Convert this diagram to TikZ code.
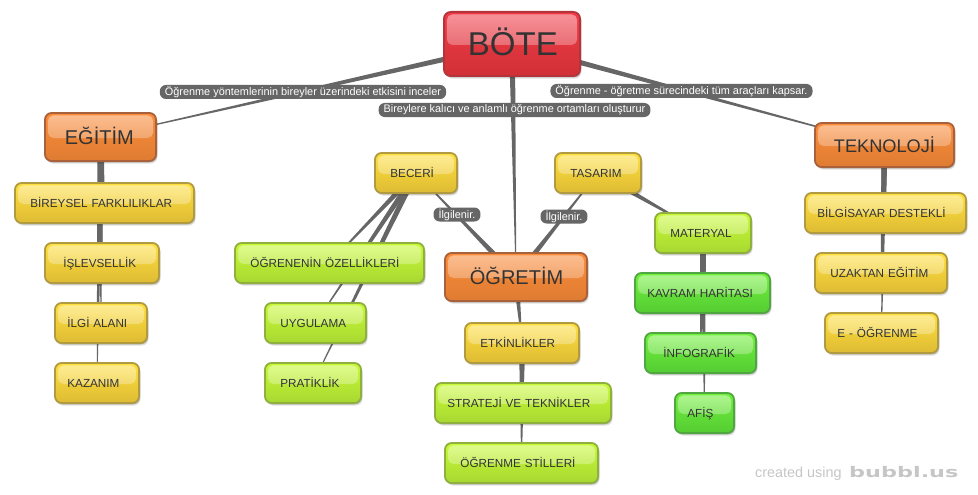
\documentclass[tikz,border=0pt]{standalone}
\usepackage{fontspec}
\setmainfont{Liberation Sans}
\newfontfamily\logofont{DejaVu Sans}
\usetikzlibrary{calc,shadows,shapes.misc,fadings}
\pgfdeclarelayer{bgl}
\pgfdeclarelayer{links}
\pgfsetlayers{bgl,links,main}
\tikzfading[name=glossfade,top color=transparent!55,bottom color=transparent!88]
\definecolor{linkc}{HTML}{666666}
\definecolor{inkc}{HTML}{333333}
\definecolor{redd}{HTML}{B4343C}\definecolor{redt}{HTML}{F23C48}\definecolor{redb}{HTML}{D03036}
\definecolor{ord}{HTML}{A8613A}\definecolor{ort}{HTML}{FC8C3A}\definecolor{orb}{HTML}{DE7C32}
\definecolor{yeld}{HTML}{B09A42}\definecolor{yelt}{HTML}{FFE03E}\definecolor{yelb}{HTML}{DEBB34}
\definecolor{limd}{HTML}{8FB03E}\definecolor{limt}{HTML}{C8FA36}\definecolor{limb}{HTML}{A8D832}
\definecolor{gred}{HTML}{50A640}\definecolor{gret}{HTML}{72F03A}\definecolor{greb}{HTML}{54CC34}
\definecolor{markc}{HTML}{C6C6C6}
\tikzset{
  x=1pt,y=-1pt,
  bubble/.style={rectangle,rounded corners=7pt,line width=1.8pt,text=inkc,inner ysep=0pt,align=left,
    text height=11pt,text depth=2pt,
    drop shadow={shadow xshift=1.5pt,shadow yshift=-2.5pt,opacity=.12,fill=black},
    drop shadow={shadow xshift=1pt,shadow yshift=-1.2pt,opacity=.2,fill=black},
    path picture={\fill[white,path fading=glossfade,rounded corners=5.5pt]
      ($(path picture bounding box.north west)+(3pt,-2.5pt)$) rectangle
      ($(path picture bounding box.east)+(-3pt,-1pt)$);}},
  redbub/.style={bubble,draw=redd,top color=redt,middle color=redt,bottom color=redb,font=\fontsize{33}{35}\selectfont,text height=26pt},
  orbub/.style={bubble,draw=ord,top color=ort,middle color=ort,bottom color=orb,font=\fontsize{20}{22}\selectfont,text height=16pt},
  yelbub/.style={bubble,draw=yeld,top color=yelt,middle color=yelt,bottom color=yelb,font=\fontsize{11.7}{14}\selectfont},
  limbub/.style={bubble,draw=limd,top color=limt,middle color=limt,bottom color=limb,font=\fontsize{11.7}{14}\selectfont},
  grebub/.style={bubble,draw=gred,top color=gret,middle color=gret,bottom color=greb,font=\fontsize{11.7}{14}\selectfont},
  pill/.style={rectangle,rounded corners=6pt,fill=linkc,text=white,inner xsep=5pt,inner ysep=0pt,minimum height=14pt,font=\fontsize{10.9}{13}\selectfont},
  marktext/.style={text=markc,inner sep=0pt,anchor=base west},
}
% name, x1, y1, x2, y2, style, left margin, text
\newcommand\bub[8]{%
  \pgfmathsetmacro\bw{#4-#2-1.8}\pgfmathsetmacro\bh{#5-#3-1.8}%
  \pgfmathsetmacro\bcx{(#2+#4)/2}\pgfmathsetmacro\bcy{(#3+#5)/2}%
  \pgfmathsetmacro\bt{\bw-2*#7}%
  \node[#6,inner xsep=#7pt,text width=\bt pt,minimum width=\bw pt,minimum height=\bh pt] (#1) at (\bcx,\bcy) {\mbox{#8}};}
\newcommand\taper[2]{\fill[linkc] ($(#1)!3pt!90:(#2)$) -- ($(#1)!3pt!-90:(#2)$) -- ($(#2)!.3pt!90:(#1)$) -- ($(#2)!.3pt!-90:(#1)$) -- cycle;}
\begin{document}
\begin{tikzpicture}
\begin{pgfonlayer}{bgl}
\fill[white] (0,0) rectangle (978,495);
\end{pgfonlayer}
\path[use as bounding box] (0,0) rectangle (978,495);
\bub{bote}{443}{11}{581}{77}{redbub}{24}{BÖTE}
\bub{egitim}{44}{112}{157}{162}{orbub}{20}{EĞİTİM}
\bub{bireysel}{14}{182}{195}{224}{yelbub}{15.5}{BİREYSEL FARKLILIKLAR}
\bub{islev}{44}{242}{160}{284}{yelbub}{18.5}{İŞLEVSELLİK}
\bub{ilgi}{54}{302}{148}{344}{yelbub}{12.5}{İLGİ ALANI}
\bub{kazanim}{54}{362}{140}{404}{yelbub}{12.5}{KAZANIM}
\bub{beceri}{374}{152}{458}{194}{yelbub}{15.5}{BECERİ}
\bub{tasarim}{554}{152}{642}{194}{yelbub}{15.5}{TASARIM}
\bub{ozellik}{234}{242}{425}{284}{limbub}{15.5}{ÖĞRENENİN ÖZELLİKLERİ}
\bub{uygulama}{264}{302}{367}{344}{limbub}{15.5}{UYGULAMA}
\bub{pratik}{264}{362}{362}{404}{limbub}{15.5}{PRATİKLİK}
\bub{ogretim}{444}{252}{588}{302}{orbub}{25}{ÖĞRETİM}
\bub{etkin}{464}{322}{580}{364}{yelbub}{15.5}{ETKİNLİKLER}
\bub{strateji}{434}{382}{612}{424}{limbub}{12.5}{STRATEJİ VE TEKNİKLER}
\bub{stil}{444}{442}{599}{484}{limbub}{15.5}{ÖĞRENME STİLLERİ}
\bub{materyal}{654}{212}{752}{254}{limbub}{15.5}{MATERYAL}
\bub{kavram}{634}{272}{771}{314}{grebub}{12.5}{KAVRAM HARİTASI}
\bub{info}{644}{332}{757}{374}{grebub}{18.5}{İNFOGRAFİK}
\bub{afis}{674}{392}{735}{434}{grebub}{12.5}{AFİŞ}
\bub{teknoloji}{814}{122}{955}{168}{orbub}{19}{\fontsize{18.2}{20}\selectfont TEKNOLOJİ}
\bub{bilgisayar}{804}{192}{967}{234}{yelbub}{12.5}{BİLGİSAYAR DESTEKLİ}
\bub{uzaktan}{814}{252}{948}{294}{yelbub}{15.5}{UZAKTAN EĞİTİM}
\bub{eogr}{824}{312}{939}{354}{yelbub}{12.5}{E - ÖĞRENME}
\begin{pgfonlayer}{links}
\taper{bote}{egitim}\taper{bote}{ogretim}\taper{bote}{teknoloji}
\taper{egitim}{bireysel}\taper{egitim}{islev}\taper{egitim}{ilgi}\taper{egitim}{kazanim}
\taper{ogretim}{beceri}\taper{ogretim}{tasarim}
\taper{beceri}{ozellik}\taper{beceri}{uygulama}\taper{beceri}{pratik}
\taper{ogretim}{etkin}\taper{etkin}{strateji}\taper{etkin}{stil}
\taper{tasarim}{materyal}
\taper{materyal}{kavram}\taper{materyal}{info}\taper{materyal}{afis}
\taper{teknoloji}{bilgisayar}\taper{teknoloji}{uzaktan}\taper{teknoloji}{eogr}
\end{pgfonlayer}
\node[pill] (l1) at (303,92) {Öğrenme yöntemlerinin bireyler üzerindeki etkisini inceler};
\node[pill] (l2) at (514.5,110) {Bireylere kalıcı ve anlamlı öğrenme ortamları oluşturur};
\node[pill] (l3) at (681.5,91) {Öğrenme - öğretme sürecindeki tüm araçları kapsar.};
\node[pill] (l4) at (457,214.5) {İlgilenir.};
\node[pill] (l5) at (564,216.5) {İlgilenir.};
\node[marktext,font=\fontsize{14.4}{16}\selectfont] (m1) at (755,477.5) {created using};
\node[marktext,font=\logofont\bfseries\fontsize{14.6}{16}\selectfont] (m2) at (849,477) {\scalebox{1.53}[1]{bubbl.us}};
\end{tikzpicture}
\end{document}
